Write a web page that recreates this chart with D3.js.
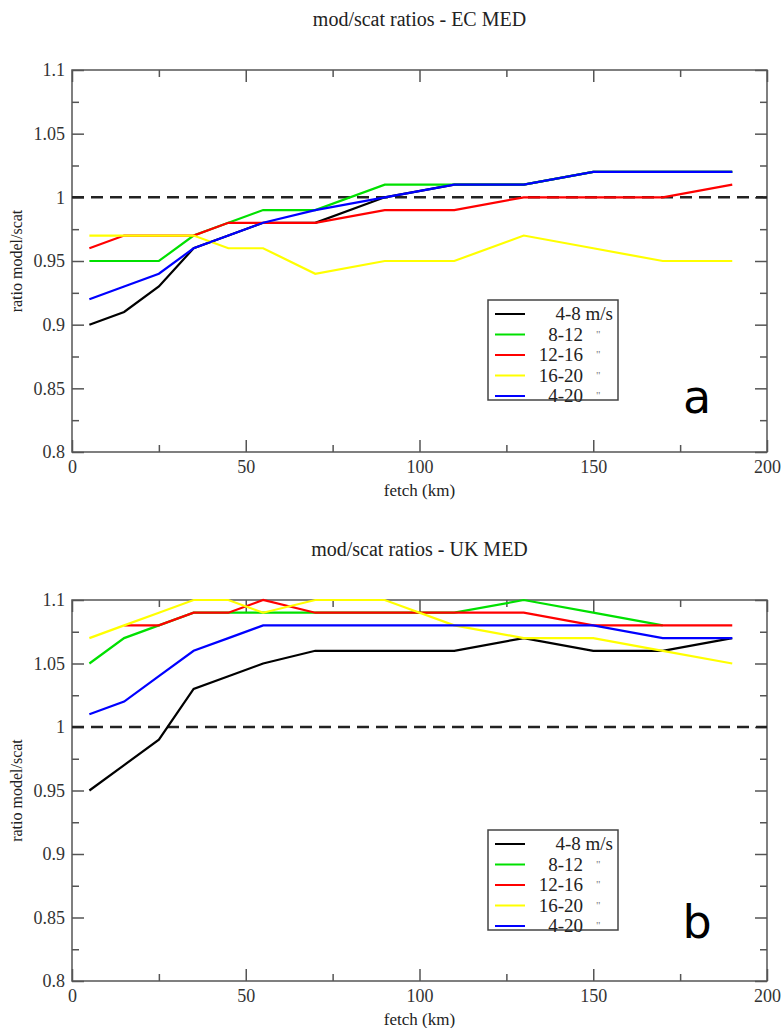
<!DOCTYPE html>
<html>
<head>
<meta charset="utf-8">
<script src="https://cdn.jsdelivr.net/npm/d3@7.9.0/dist/d3.min.js"></script>
<style>
  body { margin: 0; background: #fff; }
  svg { display: block; }
  svg text { font-family: 'Liberation Serif', 'Times New Roman', Times, 'DejaVu Serif', serif; }
  svg text.letter { font-family: 'DejaVu Sans', 'Liberation Sans', sans-serif; }
  .tick text { fill: #333; }
</style>
</head>
<body>
<svg id="chart" width="783" height="1028"></svg>
<script>
// fetch positions (km)
const fetchKm = [5, 15, 25, 35, 45, 55, 70, 90, 110, 130, 150, 170, 190];

// EC MED ratios
const ecBlack  = [0.90, 0.91, 0.93, 0.96, 0.97, 0.98, 0.98, 1.00, 1.01, 1.01, 1.02, 1.02, 1.02];
const ecGreen  = [0.95, 0.95, 0.95, 0.97, 0.98, 0.99, 0.99, 1.01, 1.01, 1.01, 1.02, 1.02, 1.02];
const ecRed    = [0.96, 0.97, 0.97, 0.97, 0.98, 0.98, 0.98, 0.99, 0.99, 1.00, 1.00, 1.00, 1.01];
const ecYellow = [0.97, 0.97, 0.97, 0.97, 0.96, 0.96, 0.94, 0.95, 0.95, 0.97, 0.96, 0.95, 0.95];
const ecBlue   = [0.92, 0.93, 0.94, 0.96, 0.97, 0.98, 0.99, 1.00, 1.01, 1.01, 1.02, 1.02, 1.02];

// UK MED ratios
const ukBlack  = [0.95, 0.97, 0.99, 1.03, 1.04, 1.05, 1.06, 1.06, 1.06, 1.07, 1.06, 1.06, 1.07];
const ukGreen  = [1.05, 1.07, 1.08, 1.09, 1.09, 1.09, 1.09, 1.09, 1.09, 1.10, 1.09, 1.08, null];
const ukRed    = [null, 1.08, 1.08, 1.09, 1.09, 1.10, 1.09, 1.09, 1.09, 1.09, 1.08, 1.08, 1.08];
const ukYellow = [1.07, 1.08, 1.09, 1.10, 1.10, 1.09, 1.10, 1.10, 1.08, 1.07, 1.07, 1.06, 1.05];
const ukBlue   = [1.01, 1.02, 1.04, 1.06, 1.07, 1.08, 1.08, 1.08, 1.08, 1.08, 1.08, 1.07, 1.07];

const legendLabels = ['4-8', '8-12', '12-16', '16-20', '4-20'];
const seriesColors = ['#000000', '#00e000', '#ff0000', '#ffff00', '#0000ff'];

const xMajor = [0, 50, 100, 150, 200];
const xMinor = [25, 75, 125, 175];
const yMajor = [0.8, 0.85, 0.9, 0.95, 1, 1.05, 1.1];
const yMinor = [0.825, 0.875, 0.925, 0.975, 1.025, 1.075];

const svg = d3.select('#chart');
const left = 72, right = 767;

function drawPanel(top, bottom, title, letter, series) {
  const x = d3.scaleLinear().domain([0, 200]).range([left, right]);
  const y = d3.scaleLinear().domain([0.8, 1.1]).range([bottom, top]);
  const g = svg.append('g');
  const axisColor = '#555';

  g.append('text')
    .attr('x', (left + right) / 2)
    .attr('y', top - 44)
    .attr('text-anchor', 'middle')
    .attr('font-size', 20)
    .attr('fill', '#222')
    .text(title);

  // axes with inward ticks
  const fmt = (d) => String(+d.toFixed(2));
  const addAxis = (axis, transform, labels) => {
    const a = g.append('g').attr('transform', transform).call(axis);
    a.attr('font-family', null);
    a.select('.domain').remove();
    a.selectAll('line').attr('stroke', axisColor).attr('stroke-width', 1.5);
    if (labels) a.selectAll('text').attr('font-size', 18);
    return a;
  };

  addAxis(d3.axisBottom(x).tickValues(xMajor).tickSize(-12).tickPadding(8).tickFormat(d3.format('d')), `translate(0,${bottom})`, true);
  addAxis(d3.axisBottom(x).tickValues(xMinor).tickSize(-7).tickFormat(''), `translate(0,${bottom})`, false);
  addAxis(d3.axisTop(x).tickValues(xMajor).tickSize(-12).tickFormat(''), `translate(0,${top})`, false);
  addAxis(d3.axisTop(x).tickValues(xMinor).tickSize(-7).tickFormat(''), `translate(0,${top})`, false);
  addAxis(d3.axisLeft(y).tickValues(yMajor).tickSize(-12).tickPadding(7).tickFormat(fmt), `translate(${left},0)`, true);
  addAxis(d3.axisLeft(y).tickValues(yMinor).tickSize(-7).tickFormat(''), `translate(${left},0)`, false);
  addAxis(d3.axisRight(y).tickValues(yMajor).tickSize(-12).tickFormat(''), `translate(${right},0)`, false);
  addAxis(d3.axisRight(y).tickValues(yMinor).tickSize(-7).tickFormat(''), `translate(${right},0)`, false);

  g.append('rect')
    .attr('x', left).attr('y', top)
    .attr('width', right - left).attr('height', bottom - top)
    .attr('fill', 'none')
    .attr('stroke', axisColor)
    .attr('stroke-width', 1.5);

  g.append('text')
    .attr('x', (left + right) / 2)
    .attr('y', bottom + 44)
    .attr('text-anchor', 'middle')
    .attr('font-size', 17)
    .attr('fill', '#222')
    .text('fetch (km)');

  g.append('text')
    .attr('transform', `translate(22,${(top + bottom) / 2}) rotate(-90)`)
    .attr('text-anchor', 'middle')
    .attr('font-size', 16)
    .attr('fill', '#222')
    .text('ratio model/scat');

  // reference line at 1
  g.append('line')
    .attr('x1', x(0)).attr('x2', x(200))
    .attr('y1', y(1)).attr('y2', y(1))
    .attr('stroke', '#222')
    .attr('stroke-width', 2.5)
    .attr('stroke-dasharray', '12,7');

  const line = d3.line()
    .defined((d) => d[1] != null)
    .x((d) => x(d[0]))
    .y((d) => y(d[1]));

  series.forEach((vals, i) => {
    g.append('path')
      .datum(fetchKm.map((f, j) => [f, vals[j]]))
      .attr('d', line)
      .attr('fill', 'none')
      .attr('stroke', seriesColors[i])
      .attr('stroke-width', 2.2);
  });

  // legend
  const lx = 488, ly = top + 230;
  const leg = g.append('g');
  leg.append('rect')
    .attr('x', lx).attr('y', ly)
    .attr('width', 130).attr('height', 100)
    .attr('fill', '#fff')
    .attr('stroke', '#444')
    .attr('stroke-width', 1.5);
  legendLabels.forEach((lab, i) => {
    const ry = ly + 14 + i * 20.5;
    leg.append('line')
      .attr('x1', lx + 7).attr('x2', lx + 37)
      .attr('y1', ry).attr('y2', ry)
      .attr('stroke', seriesColors[i])
      .attr('stroke-width', 2);
    if (i === 0) {
      leg.append('text')
        .attr('x', lx + 125).attr('y', ry + 6)
        .attr('text-anchor', 'end')
        .attr('font-size', 19)
        .attr('fill', '#222')
        .text(lab + ' m/s');
    } else {
      leg.append('text')
        .attr('x', lx + 95).attr('y', ry + 6)
        .attr('text-anchor', 'end')
        .attr('font-size', 19)
        .attr('fill', '#222')
        .text(lab);
      leg.append('text')
        .attr('x', lx + 108).attr('y', ry + 3)
        .attr('font-size', 11)
        .attr('fill', '#777')
        .text('"');
    }
  });

  g.append('text')
    .attr('class', 'letter')
    .attr('x', 697)
    .attr('y', letter === 'a' ? top + 343 : top + 338)
    .attr('text-anchor', 'middle')
    .attr('font-size', 46)
    .attr('fill', '#000')
    .text(letter);
}

drawPanel(70, 452, 'mod/scat ratios - EC MED', 'a', [ecBlack, ecGreen, ecRed, ecYellow, ecBlue]);
drawPanel(600, 981, 'mod/scat ratios - UK MED', 'b', [ukBlack, ukGreen, ukRed, ukYellow, ukBlue]);
</script>
</body>
</html>
